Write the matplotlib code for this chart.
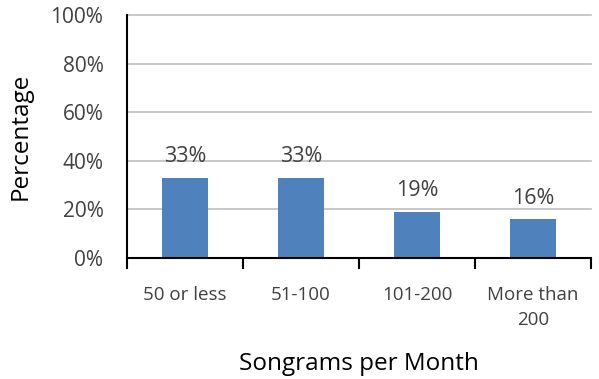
import matplotlib
matplotlib.use("Agg")
import matplotlib.pyplot as plt
from matplotlib.ticker import FixedLocator, PercentFormatter

categories = ["50 or less", "51-100", "101-200", "More than\n200"]
shares = [33, 33, 19, 16]
y_ticks = [0, 20, 40, 60, 80, 100]

plt.rcParams["font.family"] = ["Open Sans", "DejaVu Sans"]
text_color = "#404040"
bar_color = "#4F81BD"

fig = plt.figure(figsize=(5.99, 3.79), dpi=100)
ax = fig.add_axes([0.212, 0.3193, 0.775, 0.6411])

x = list(range(len(categories)))
values = [s / 100 for s in shares]
bars = ax.bar(x, values, width=0.4, color=bar_color, zorder=3)

for rect, s in zip(bars, shares):
    ax.annotate(f"{s}%", (rect.get_x() + rect.get_width() / 2, rect.get_height()),
                xytext=(0, 21), textcoords="offset pixels",
                ha="center", va="center", fontsize=15.5, color=text_color)

ax.set_xlim(-0.5, len(categories) - 0.5)
ax.set_ylim(0, 1.0)
ax.yaxis.set_major_locator(FixedLocator([t / 100 for t in y_ticks]))
ax.yaxis.set_major_formatter(PercentFormatter(1.0, decimals=0))
ax.grid(axis="y", color="#BFBFBF", linewidth=1.2, zorder=0)
for line in ax.get_ygridlines():
    line.set_clip_on(False)

ax.set_xticks(x)
ax.set_xticklabels(categories, fontsize=13.5, color=text_color, linespacing=1.55)
ax.xaxis.set_minor_locator(FixedLocator([i - 0.5 for i in range(len(categories) + 1)]))
ax.tick_params(axis="x", which="major", length=0, pad=20)
ax.tick_params(axis="x", which="minor", length=8, width=1.5, color="black", direction="out")
ax.tick_params(axis="y", length=0, pad=17, labelsize=15, labelcolor=text_color)

for side in ("top", "right"):
    ax.spines[side].set_visible(False)
for side in ("left", "bottom"):
    ax.spines[side].set_color("black")
    ax.spines[side].set_linewidth(1.5)
    ax.spines[side].set_zorder(4)

ax.set_ylabel("Percentage", fontsize=17.5, color="black", labelpad=13)
ax.set_xlabel("Songrams per Month", fontsize=17.5, color="black", labelpad=16)

fig.savefig("out.png", dpi=100)
